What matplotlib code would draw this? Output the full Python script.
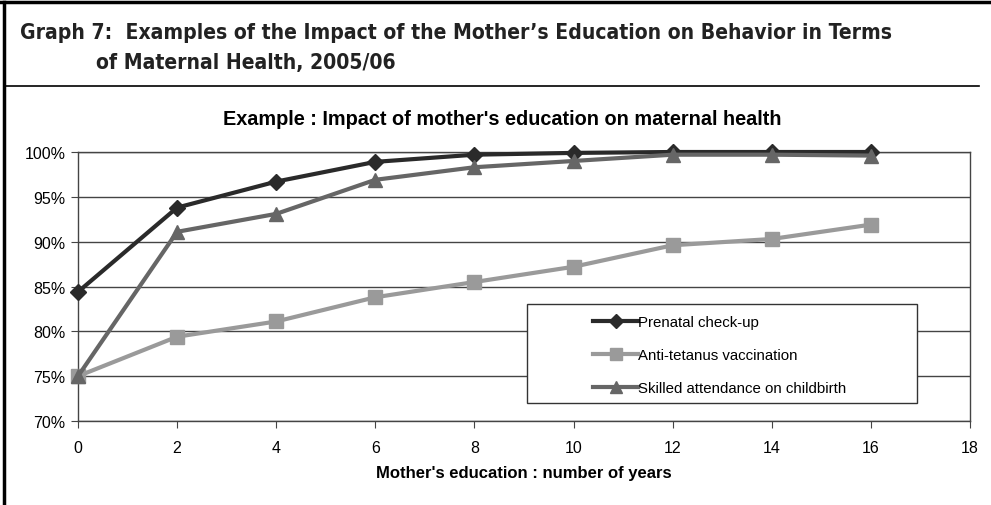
import matplotlib.pyplot as plt
from matplotlib import font_manager
from matplotlib.lines import Line2D
from matplotlib.patches import Rectangle
from matplotlib.ticker import FuncFormatter

years = [0, 2, 4, 6, 8, 10, 12, 14, 16]
prenatal = [84.4, 93.8, 96.7, 98.9, 99.7, 99.9, 100.0, 100.0, 100.0]
tetanus = [75.0, 79.4, 81.1, 83.8, 85.5, 87.2, 89.6, 90.3, 91.9]
skilled = [75.0, 91.1, 93.1, 96.9, 98.3, 99.0, 99.7, 99.7, 99.6]

labels = ["Prenatal check-up", "Anti-tetanus vaccination",
          "Skilled attendance on childbirth"]
header = ("Graph 7:  Examples of the Impact of the Mother\u2019s Education on Behavior in Terms",
          "of Maternal Health, 2005/06")

plt.rcParams['font.family'] = ['Liberation Sans', 'DejaVu Sans']

# pick a narrow face for the header if there is one
names = set(f.name for f in font_manager.fontManager.ttflist)
narrow = 'Liberation Sans Narrow' if 'Liberation Sans Narrow' in names else 'DejaVu Sans'
stretch = 'normal' if narrow == 'Liberation Sans Narrow' else 'condensed'

W, H = 991, 506
fig = plt.figure(figsize=(W / 100, H / 100), dpi=100)

# outer frame lines
fig.add_artist(Line2D([0, 1], [1 - 3 / H, 1 - 3 / H], color='black', lw=2.5))
fig.add_artist(Line2D([4 / W, 4 / W], [0, 1 - 3 / H], color='black', lw=2.5))
fig.add_artist(Line2D([4 / W, 979 / W], [1 - 87 / H, 1 - 87 / H], color='black', lw=1.2))

t1 = fig.text(20 / W, 1 - 33 / H, header[0], fontsize=15, fontweight='semibold',
              family=narrow, stretch=stretch, va='center', ha='left', color='#222222')
t2 = fig.text(96 / W, 1 - 63 / H, header[1], fontsize=15, fontweight='semibold',
              family=narrow, stretch=stretch, va='center', ha='left', color='#222222')
# fit the first header line to its width in the reference (20..893 px)
r = fig.canvas.get_renderer()
w = t1.get_window_extent(r).width
fs = min(18, 15 * 873 / w)
t1.set_fontsize(fs)
t2.set_fontsize(fs)

ax = fig.add_axes([78 / W, 1 - 422 / H, (970 - 78) / W, (422 - 153) / H])

# later series drawn on top, as in the original
ax.plot(years, prenatal, color='#2a2a2a', lw=3, marker='D', ms=8, label=labels[0],
        clip_on=False, zorder=3)
ax.plot(years, tetanus, color='#9a9a9a', lw=3, marker='s', ms=10, label=labels[1],
        clip_on=False, zorder=3)
ax.plot(years, skilled, color='#666666', lw=3, marker='^', ms=10, label=labels[2],
        clip_on=False, zorder=3)

ax.set_xlim(0, 18)
ax.set_ylim(70, 100)
ax.set_xticks(range(0, 19, 2))
ax.set_yticks(range(70, 101, 5))
ax.yaxis.set_major_formatter(FuncFormatter(lambda v, p: f"{int(v)}%"))
ax.tick_params(axis='both', labelsize=11.5, direction='out', length=5,
               color='#444444', pad=4)
ax.tick_params(axis='x', pad=9)
ax.grid(axis='y', color='#444444', lw=1)
ax.set_axisbelow(True)
for s in ax.spines.values():
    s.set_color('#444444')
    s.set_linewidth(1)

ttl = ax.set_title("Example : Impact of mother's education on maternal health",
                   fontsize=14.3, fontweight='bold', pad=20)
ttl.set_x((502 - 78) / (970 - 78))
ax.set_xlabel("Mother's education : number of years", fontsize=12,
              fontweight='bold', labelpad=7)

# legend box drawn separately, entries placed inside
x0, x1 = 527, 917
y0, y1 = 305, 404
box = Rectangle((x0 / W, 1 - y1 / H), (x1 - x0) / W, (y1 - y0) / H,
                transform=fig.transFigure, facecolor='white', edgecolor='#333333',
                lw=1, zorder=5)
fig.add_artist(box)
leg = fig.legend(loc='center left', bbox_to_anchor=(593 / W, 1 - 356 / H),
                 fontsize=10.8, frameon=False, handlelength=3.0, handletextpad=0,
                 labelspacing=1.25, borderpad=0, borderaxespad=0)
leg.set_zorder(6)
for h in leg.legend_handles:
    h.set_markersize(h.get_markersize() * 0.85)

fig.savefig('out.png', dpi=100)
